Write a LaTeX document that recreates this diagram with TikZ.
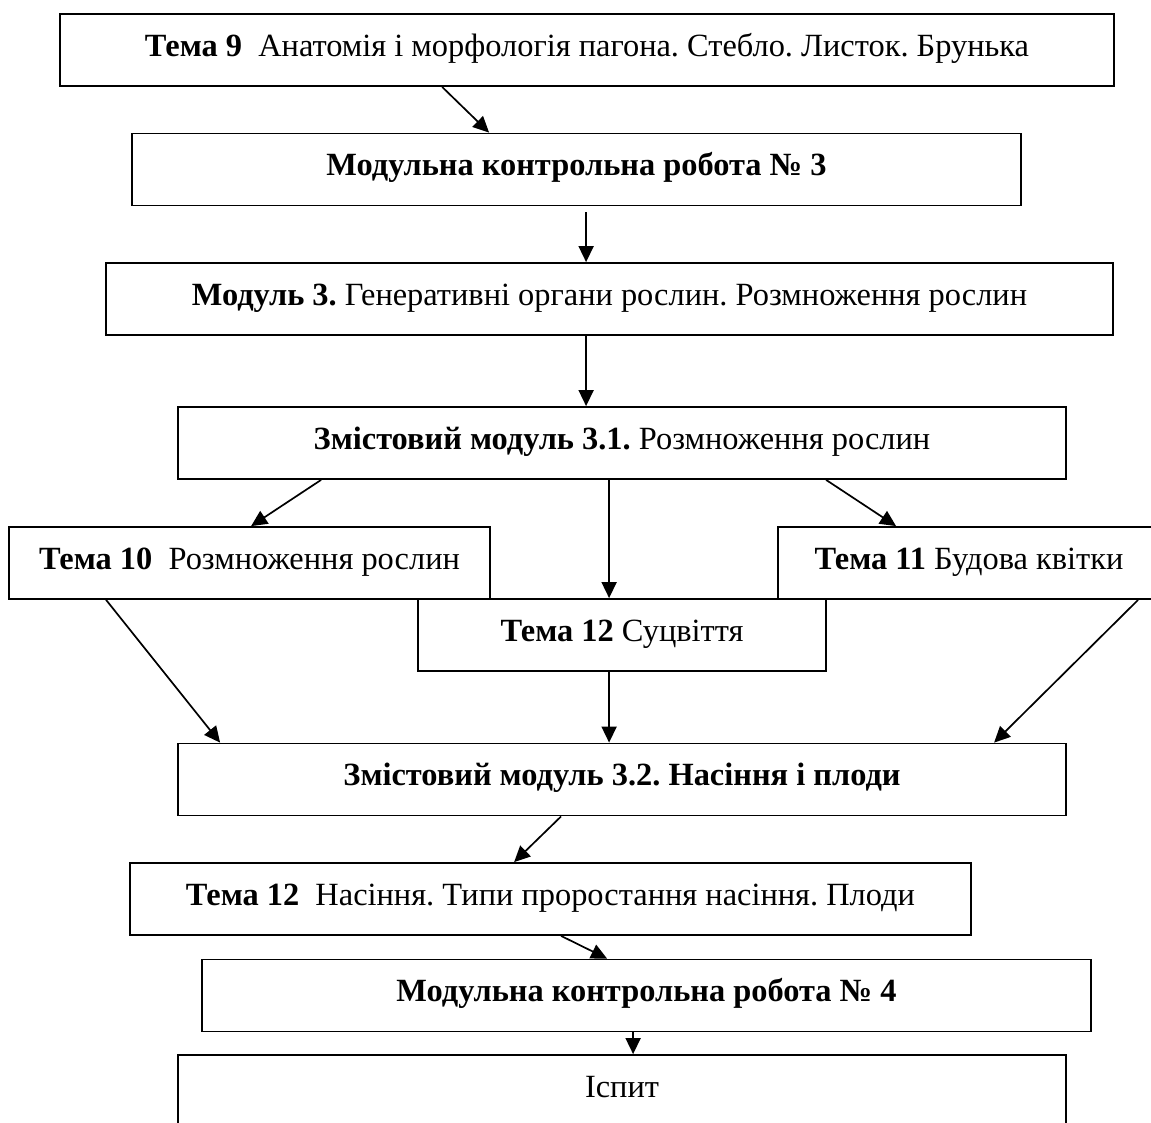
\documentclass[tikz,border=0pt]{standalone}
\usepackage{fontspec}
\setmainfont{Liberation Serif}
\usetikzlibrary{arrows.meta,calc}
\frenchspacing
\begin{document}
\begin{tikzpicture}[x=1pt,y=-1pt,
  box/.style={draw, line width=1.8pt, rectangle, inner sep=0pt,
    text height=42pt, text depth=30pt, minimum height=72pt,
    font=\fontsize{32.4}{38}\selectfont},
  arr/.style={line width=1.7pt, -{Triangle[length=16pt,width=15pt]}}]
\useasboundingbox (0,0) rectangle (1151,1122);
\clip (0,0) rectangle (1151,1122);
\fill[white] (0,0) rectangle (1151,1122);

\node[box, minimum width=1054pt] (b1) at (587,50)
  {\textbf{Тема 9}\ \ Анатомія і морфологія пагона. Стебло. Листок. Брунька};
\node[box, minimum width=889pt] (b2) at (576.5,169.5)
  {\textbf{Модульна контрольна робота № 3}};
\node[box, minimum width=1007pt] (b3) at (609.5,299)
  {\textbf{Модуль 3.} Генеративні органи рослин. Розмноження рослин};
\node[box, minimum width=888pt] (b4) at (622,443)
  {\textbf{Змістовий модуль 3.1.} Розмноження рослин};
\node[box, minimum width=481pt] (b5) at (249.5,563)
  {\textbf{Тема 10}\ \ Розмноження рослин};
\node[box, minimum width=382pt] (b6) at (969,563)
  {\textbf{Тема 11} Будова квітки};
\node[box, minimum width=408pt] (b7) at (622,635)
  {\textbf{Тема 12} Суцвіття};
\node[box, minimum width=888pt] (b8) at (622,779.5)
  {\textbf{Змістовий модуль 3.2. Насіння і плоди}};
\node[box, minimum width=841pt] (b9) at (550.5,899)
  {\textbf{Тема 12}\ \ Насіння. Типи проростання насіння. Плоди};
\node[box, minimum width=889pt] (b10) at (646.5,995.5)
  {\textbf{Модульна контрольна робота № 4}};
\node[box, minimum width=888pt] (b11) at (622,1091)
  {Іспит};

\draw[arr] ($(b1.south west)+(383,0)$) -- ($(b2.north west)+(358,0)$);
\draw[arr] ($(b2.south west)+(455,6)$) -- ($(b3.north west)+(481,0)$);
\draw[arr] ($(b3.south west)+(481,0)$) -- ($(b4.north west)+(409,0)$);
\draw[arr] ($(b4.south west)+(144,0)$) -- ($(b5.north west)+(243,0)$);
\draw[arr] ($(b4.south west)+(432,0)$) -- ($(b7.north west)+(192,0)$);
\draw[arr] ($(b4.south west)+(649,0)$) -- ($(b6.north west)+(119,0)$);
\draw[arr] ($(b5.south west)+(98,0)$) -- ($(b8.north west)+(43,0)$);
\draw[arr] ($(b7.south west)+(192,0)$) -- ($(b8.north west)+(432,0)$);
\draw[arr] ($(b6.south west)+(361,0)$) -- ($(b8.north west)+(817,0)$);
\draw[arr] ($(b8.south west)+(384,0)$) -- ($(b9.north west)+(385,0)$);
\draw[arr] ($(b9.south west)+(432,0)$) -- ($(b10.north west)+(406,0)$);
\draw[arr] ($(b10.south west)+(432,0)$) -- ($(b11.north west)+(456,0)$);
\end{tikzpicture}
\end{document}
